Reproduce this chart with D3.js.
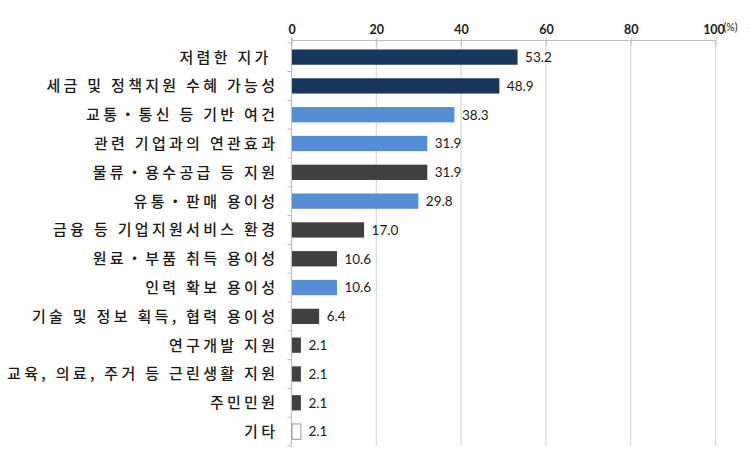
<!DOCTYPE html>
<html><head><meta charset="utf-8">
<script src="https://cdn.jsdelivr.net/npm/d3@7"></script>
<style>body{margin:0;background:#fff}svg{display:block}</style>
</head><body><svg id="c" width="750" height="459"></svg>
<script>
const categories = ["저렴한 지가 ","세금 및 정책지원 수혜 가능성","교통・통신 등 기반 여건","관련 기업과의 연관효과","물류・용수공급 등 지원","유통・판매 용이성","금융 등 기업지원서비스 환경","원료・부품 취득 용이성","인력 확보 용이성","기술 및 정보 획득, 협력 용이성","연구개발 지원","교육, 의료, 주거 등 근린생활 지원","주민민원","기타"];
const values = [53.2,48.9,38.3,31.9,31.9,29.8,17.0,10.6,10.6,6.4,2.1,2.1,2.1,2.1];
const groups = ["top","top","blue","blue","gray","blue","gray","gray","blue","gray","gray","gray","gray","other"];
const ticks = [0,20,40,60,80,100];
const colorMap = {top:"#17375E", blue:"#558ED5", gray:"#404040", other:"#FFFFFF"};

const svg = d3.select("#c");
const x = d3.scaleLinear().domain([0,100]).range([291.5,715.5]);
const y = d3.scaleBand().domain(categories).range([42.7,446]).paddingInner(0.47).paddingOuter(0.235);

// gridlines
svg.append("g").selectAll("line").data(ticks.slice(1)).join("line")
  .attr("x1",d=>x(d)).attr("x2",d=>x(d)).attr("y1",40.5).attr("y2",446)
  .attr("stroke","#d9d9d9").attr("stroke-width",1.2);

// top axis
const ax = svg.append("g").attr("transform","translate(0,40.5)")
  .call(d3.axisTop(x).tickValues(ticks).tickSize(-5).tickPadding(10).tickFormat(d3.format("d")));
ax.select(".domain").attr("stroke","#bfbfbf").attr("d",`M${x(0)},0H${x(100)}`);
ax.selectAll(".tick line").attr("stroke","#bfbfbf").attr("y1",-3);
ax.selectAll("text").attr("font-family","Lato, 'DejaVu Sans', sans-serif").attr("font-size",12.5).attr("font-weight","bold").attr("fill","#1a1a1a").attr("dy","0.25em");
ax.selectAll(".tick").filter(d=>d===100).select("text").attr("dx",-2);
svg.append("text").attr("x",x(100)+8).attr("y",31).attr("font-family","Lato, sans-serif").attr("font-size",10.5).attr("fill","#1a1a1a").text("(%)");

// left axis
svg.append("line").attr("x1",x(0)).attr("x2",x(0)).attr("y1",38).attr("y2",446).attr("stroke","#bfbfbf").attr("stroke-width",1.2);
const step = y.step();
const bounds = d3.range(categories.length+1).map(i=>42.7+i*step);
svg.append("g").selectAll("line").data(bounds).join("line")
  .attr("x1",x(0)-4).attr("x2",x(0)).attr("y1",d=>d).attr("y2",d=>d).attr("stroke","#bfbfbf");

// bars
svg.append("g").selectAll("rect").data(categories).join("rect")
  .attr("x",x(0)+0.5).attr("y",d=>y(d)).attr("height",y.bandwidth())
  .attr("width",(d,i)=>x(values[i])-x(0))
  .attr("fill",(d,i)=>colorMap[groups[i]])
  .attr("stroke",(d,i)=>groups[i]==="other"?"#7f7f7f":"none").attr("stroke-width",0.8);

// value labels
svg.append("g").selectAll("text").data(categories).join("text")
  .attr("x",(d,i)=>x(values[i])+8).attr("y",d=>y(d)+y.bandwidth()/2).attr("dy","0.36em")
  .attr("font-family","Lato, 'Open Sans', sans-serif").attr("font-size",13.5).attr("fill","#1a1a1a")
  .text((d,i)=>values[i].toFixed(1));

// category labels
svg.append("g").selectAll("text").data(categories).join("text")
  .attr("x",278.3).attr("y",d=>y(d)+y.bandwidth()/2).attr("dy","0.36em").attr("text-anchor","end")
  .attr("font-family","'Noto Sans CJK KR', sans-serif").attr("font-size",15).attr("font-weight",500)
  .attr("letter-spacing","3.3px").attr("fill","#1a1a1a")
  .style("white-space","pre")
  .text(d=>d);
</script></body></html>
